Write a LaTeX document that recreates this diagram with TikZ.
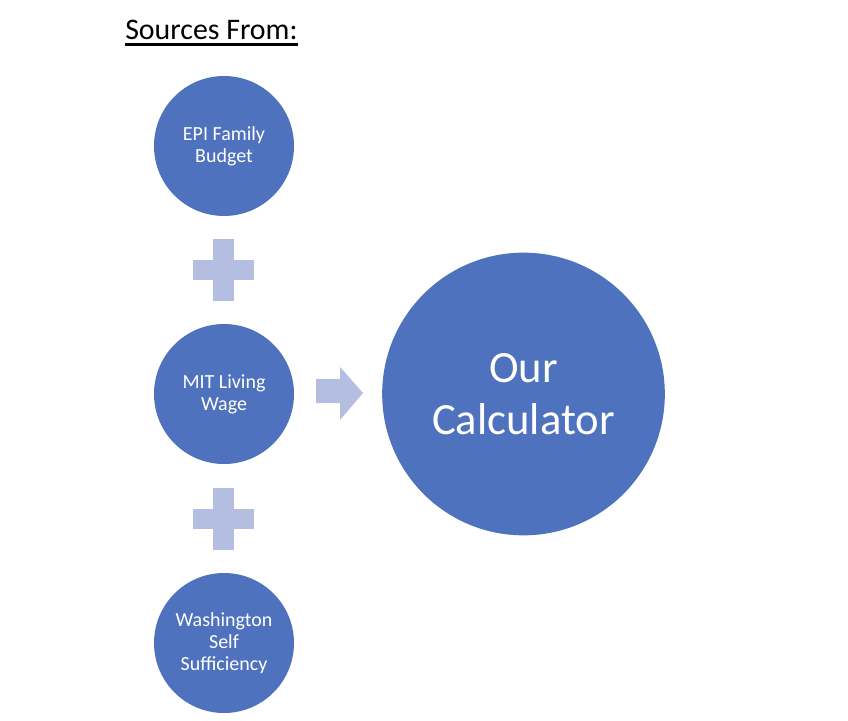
\documentclass[tikz,border=0pt]{standalone}
\usepackage{fontspec}
\setmainfont{Carlito}
\usetikzlibrary{calc}
\definecolor{circblue}{RGB}{79,114,190}
\definecolor{lightblue}{RGB}{180,190,225}
\tikzset{
  srccircle/.style={circle, fill=circblue, draw=none, minimum size=105pt, inner sep=0pt,
    text=white, align=center, font=\fontsize{15}{16.5}\selectfont},
  bigcircle/.style={circle, fill=circblue, draw=none, minimum size=212pt, inner sep=0pt,
    text=white, align=center, font=\fontsize{33.5}{38.5}\selectfont},
  lightshape/.style={fill=lightblue, draw=none}
}
\newcommand{\plusshape}[2]{%
  \fill[lightshape] (#1-10.5,#2-31) rectangle (#1+10.5,#2+31);
  \fill[lightshape] (#1-30.5,#2-10) rectangle (#1+30.5,#2+10);
}
\begin{document}
\begin{tikzpicture}[x=0.75pt,y=-0.75pt]
\useasboundingbox (0,0) rectangle (848,720);
\fill[white] (0,0) rectangle (848,720);

\node[anchor=base west, inner sep=0pt, font=\fontsize{22.4}{26}\selectfont] (title) at (125,39.5) {Sources From:};
\draw[line width=1.6pt] ($(title.base west)+(0,5)$) -- ($(title.base east)+(0,5)$);

\node[srccircle] (epi) at (224,146) {EPI Family\\Budget};
\node[srccircle] (mit) at (224,394) {MIT Living\\Wage};
\node[srccircle] (wash) at (224,643) {Washington\\Self\\Sufficiency};
\node[bigcircle] (calc) at (523.5,394) {Our\\Calculator};

\plusshape{223.5}{270}
\plusshape{223.5}{518.5}

\fill[lightshape] (316,379) -- (340,379) -- (340,367) -- (363,393) -- (340,420) -- (340,403) -- (316,403) -- cycle;
\end{tikzpicture}
\end{document}
